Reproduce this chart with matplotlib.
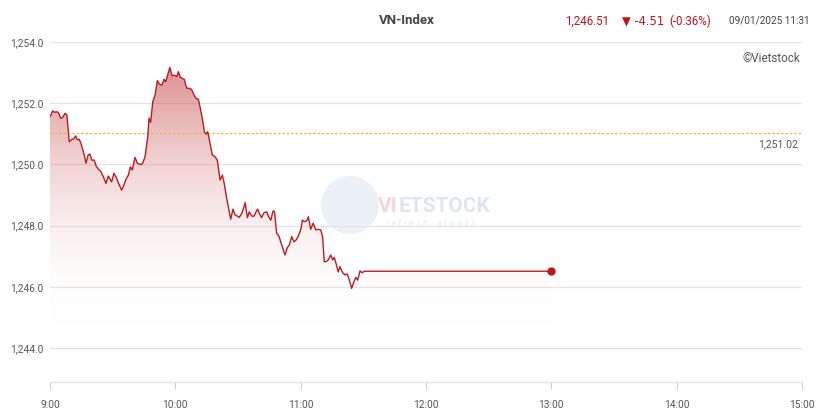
import matplotlib
matplotlib.use("Agg")
import matplotlib.pyplot as plt
import numpy as np
from matplotlib.patches import Circle
from matplotlib.colors import LinearSegmentedColormap

plt.rcParams['font.family'] = ['Roboto', 'DejaVu Sans']

# minutes since 9:00
minutes = [0, 1.3, 2.2, 3.0, 4.0, 5.1, 6.1, 7.2, 8.1, 9.2, 10.4, 11.3, 12.3, 13.1, 14.0, 14.8,
           15.7, 16.4, 17.2, 18.3, 19.1, 20.0, 21.2, 22.0, 23.1, 24.4, 25.5, 26.8, 27.9, 29.5,
           30.6, 31.9, 33.0, 34.3, 35.4, 36.4, 37.5, 38.5, 39.4, 40.7, 41.8, 43.1, 44.2, 45.5,
           46.8, 47.4, 48.2, 49.2, 50.3, 51.4, 52.3, 53.5, 54.6, 55.4, 56.3, 57.4, 58.4, 59.5,
           60.7, 61.4, 62.4, 63.3, 64.3, 65.4, 66.5, 67.8, 68.9, 69.9, 71.0, 71.8, 72.9, 73.9,
           74.7, 75.5, 76.6, 77.7, 79.0, 80.1, 81.4, 82.5, 83.4, 84.6, 86.5, 87.6, 88.6, 89.7,
           90.6, 91.8, 92.9, 93.4, 94.5, 95.4, 96.6, 97.7, 98.5, 99.4, 100.2, 101.3, 102.4, 103.7,
           104.5, 105.7, 106.8, 107.5, 108.5, 109.6, 110.9, 112.5, 113.6, 114.6, 115.7, 116.8,
           117.8, 118.9, 120.2, 120.8, 121.7, 122.9, 123.7, 124.8, 126.0, 127.2, 128.4, 129.6,
           130.5, 131.3, 132.1, 133.2, 134.4, 135.3, 136.1, 136.9, 138.0, 138.8, 140.1, 141.2,
           142.3, 143.3, 144.4, 145.5, 146.5, 147.3, 148.4, 149.5, 150.5, 240.0]
values = [1251.56, 1251.75, 1251.70, 1251.72, 1251.70, 1251.51, 1251.54, 1251.67, 1251.61,
          1250.74, 1250.82, 1250.83, 1250.93, 1250.80, 1250.82, 1250.69, 1250.47, 1250.31,
          1250.04, 1250.31, 1250.34, 1250.14, 1250.14, 1249.96, 1249.85, 1249.76, 1249.60,
          1249.38, 1249.62, 1249.43, 1249.71, 1249.55, 1249.35, 1249.16, 1249.33, 1249.52,
          1249.65, 1249.92, 1249.82, 1250.23, 1250.04, 1250.00, 1250.01, 1250.25, 1250.91,
          1251.51, 1251.38, 1252.05, 1252.27, 1252.74, 1252.63, 1252.59, 1252.78, 1252.70,
          1252.92, 1253.17, 1252.90, 1252.92, 1252.87, 1253.03, 1252.85, 1252.81, 1252.78,
          1252.49, 1252.49, 1252.45, 1252.27, 1252.16, 1252.13, 1251.89, 1251.51, 1251.07,
          1250.99, 1251.07, 1250.69, 1250.31, 1250.25, 1250.14, 1249.49, 1249.65, 1249.38,
          1248.89, 1248.21, 1248.54, 1248.35, 1248.31, 1248.27, 1248.40, 1248.62, 1248.75,
          1248.26, 1248.45, 1248.31, 1248.31, 1248.43, 1248.54, 1248.40, 1248.26, 1248.42,
          1248.45, 1248.31, 1248.18, 1248.48, 1248.46, 1247.75, 1247.66, 1247.37, 1247.04,
          1247.28, 1247.37, 1247.64, 1247.47, 1247.53, 1247.66, 1247.91, 1248.18, 1248.13,
          1248.16, 1248.29, 1247.88, 1248.08, 1247.86, 1247.88, 1247.86, 1247.64, 1246.82,
          1246.82, 1246.88, 1247.04, 1246.88, 1246.96, 1246.77, 1246.49, 1246.66, 1246.46,
          1246.39, 1246.42, 1246.22, 1245.95, 1246.17, 1246.31, 1246.22, 1246.52, 1246.46,
          1246.51, 1246.51]

ref_value = 1251.02
fill_base = 1244.65
y_ticks = [1244.0, 1246.0, 1248.0, 1250.0, 1252.0, 1254.0]
x_ticks = [0, 60, 120, 180, 240, 300, 360]
x_labels = ["9:00", "10:00", "11:00", "12:00", "13:00", "14:00", "15:00"]

line_color = "#b81c22"

fig = plt.figure(figsize=(8.16, 4.17), dpi=100)
ax = fig.add_axes([50/816, 35/417, 752/816, 340/417])
ax.set_xlim(0, 360)
ax.set_ylim(1242.89, 1254.0)

for s in ['top', 'right', 'left']:
    ax.spines[s].set_visible(False)
ax.spines['bottom'].set_color('#e3e3ea')
ax.spines['bottom'].set_linewidth(1)

for yv in y_ticks:
    ax.axhline(yv, color='#e3e3e3', lw=0.9, zorder=0)

ax.set_yticks(y_ticks)
ax.set_yticklabels([f"{v:,.1f}" for v in y_ticks], fontsize=7.3, color='#555555')
ax.tick_params(axis='y', length=0, pad=5)
ax.set_xticks(x_ticks)
ax.set_xticklabels(x_labels, fontsize=7.3, color='#555555')
ax.tick_params(axis='x', length=5, color='#ccccdd', pad=8)

# gradient fill
x = np.array(minutes)
y = np.array(values)
poly = ax.fill_between(x, y, fill_base, color='none', lw=0)
cmap = LinearSegmentedColormap.from_list('g', [(1, 1, 1, 0), (0.78, 0.27, 0.27, 0.62)])
grad = np.linspace(0, 1, 256).reshape(-1, 1)
im = ax.imshow(grad, extent=[0, 240, fill_base, 1253.3], origin='lower', aspect='auto',
               cmap=cmap, vmin=0, vmax=1, zorder=1)
path = poly.get_paths()[0]
im.set_clip_path(path, transform=ax.transData)

ax.plot(x, y, color=line_color, lw=1.0, zorder=3)
ax.plot([x[-1]], [y[-1]], 'o', color=line_color, ms=5, zorder=4)

ax.axhline(ref_value, color='#f5b041', lw=0.9, ls=(0, (2, 1.5)), zorder=2)
ax.text(358, ref_value - 0.2, f"{ref_value:,.2f}", ha='right', va='top', fontsize=7.5, color='#555555')

# watermark
wm = fig.add_axes([0, 0, 1, 1], facecolor='none')
wm.set_xlim(0, 816); wm.set_ylim(417, 0); wm.axis('off')
wm.add_patch(Circle((350, 205), 29, color='#dfe8f2', alpha=0.6, lw=0))
t_vi = wm.text(378, 206, "VI", fontsize=15, color='#f6d5d8', ha='left', va='center', fontweight='bold')
fig.canvas.draw()
bb = t_vi.get_window_extent()
x_px = bb.x1 + 0.5
x_data = wm.transData.inverted().transform((x_px, bb.y0))[0]
wm.text(x_data, 206, "ETSTOCK", fontsize=15, color='#dde6f0', ha='left', va='center', fontweight='bold')
wm.text(386, 223, "r e f r e s h    a l w a y s", fontsize=6.5, color='#e6ecf2', ha='left', va='center')

# header texts
fig.text(407/816, 1 - 21/417, "VN-Index", ha='center', va='center', fontsize=9.5,
         color='#444444', fontweight='bold')
fig.text(565/816, 1 - 21/417, "1,246.51", ha='left', va='center', fontsize=8.3, color='#c0111a')
fig.text(622/816, 1 - 21/417, "▼ -4.51", ha='left', va='center', fontsize=8.3, color='#c0111a',
         family=['DejaVu Sans'])
fig.text(669/816, 1 - 21/417, "(-0.36%)", ha='left', va='center', fontsize=8.3, color='#c0111a')
fig.text(810/816, 1 - 21/417, "09/01/2025 11:31", ha='right', va='center', fontsize=7.2,
         color='#444444')
fig.text(800/816, 1 - 58/417, "©Vietstock", ha='right', va='center', fontsize=8.5, color='#555555')

fig.savefig("out.png", dpi=100)
